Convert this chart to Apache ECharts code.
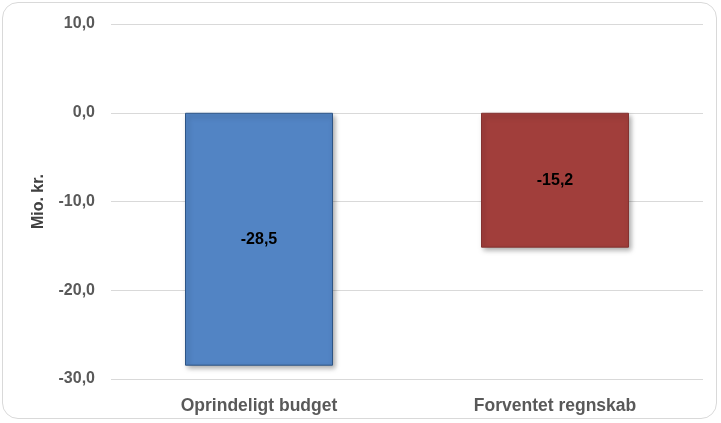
<!DOCTYPE html>
<html><head><meta charset="utf-8">
<script src="https://cdn.jsdelivr.net/npm/echarts@6/dist/echarts.min.js"></script>
<style>html,body{margin:0;padding:0;background:#fff}#c{width:721px;height:423px}
#frame{position:absolute;left:2px;top:2px;width:715px;height:417px;border:1px solid #d9d9d9;border-radius:16px;box-sizing:border-box;pointer-events:none}</style>
</head><body><div id="c"></div><div id="frame"></div>
<script>
const categories = ['Oprindeligt budget', 'Forventet regnskab'];
const values = [-28.5, -15.2];
const barColors = ['#5284C4', '#A13E3B'];
const yTicks = { min: -30, max: 10, interval: 10 };
const yName = 'Mio. kr.';

const fmt = v => v.toFixed(1).replace('.', ',');
const chart = echarts.init(document.getElementById('c'));
chart.setOption({
  animation: false,
  grid: { left: 111, right: 18, top: 24, bottom: 44 },
  xAxis: {
    type: 'category', data: categories,
    axisLine: { show: false }, axisTick: { show: false },
    axisLabel: { color: '#595959', fontFamily: 'Liberation Sans', fontWeight: 'bold', fontSize: 17.5, margin: 18 }
  },
  yAxis: {
    type: 'value', min: yTicks.min, max: yTicks.max, interval: yTicks.interval,
    name: yName, nameLocation: 'middle', nameRotate: 90, nameGap: 64,
    nameTextStyle: { color: '#404040', fontFamily: 'Liberation Sans', fontWeight: 'bold', fontSize: 16 },
    axisLine: { show: false }, axisTick: { show: false },
    axisLabel: { color: '#595959', fontFamily: 'Liberation Sans', fontWeight: 'bold', fontSize: 16, margin: 16, formatter: fmt },
    splitLine: { lineStyle: { color: '#d9d9d9', width: 1 } }
  },
  series: [{
    type: 'bar', barWidth: '50%',
    data: values.map((v, i) => ({
      value: v,
      itemStyle: {
        color: barColors[i],
        borderColor: echarts.color.modifyHSL(barColors[i], null, null, 0.35),
        borderWidth: 1,
        shadowColor: 'rgba(0,0,0,0.35)', shadowBlur: 5, shadowOffsetX: 2, shadowOffsetY: 3
      }
    })),
    label: { show: true, position: 'inside', formatter: p => fmt(p.value),
      color: '#000', fontFamily: 'Liberation Sans', fontWeight: 'bold', fontSize: 16 }
  }]
});
</script></body></html>
